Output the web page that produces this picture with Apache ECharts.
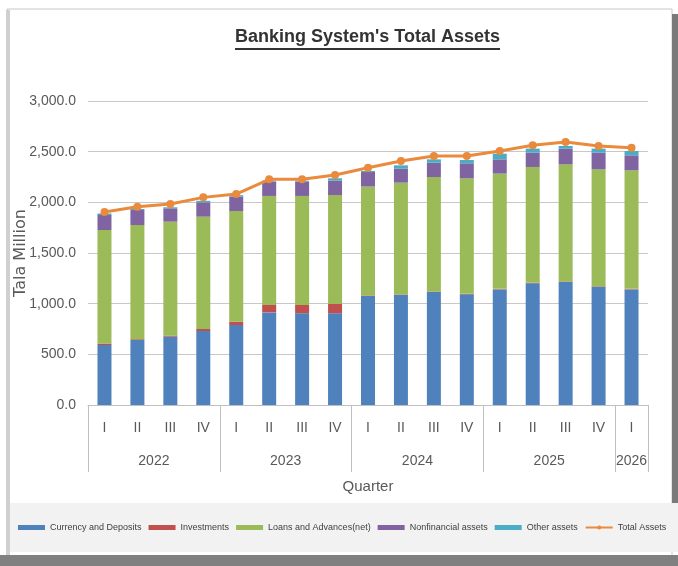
<!DOCTYPE html>
<html><head><meta charset="utf-8">
<script src="https://cdn.jsdelivr.net/npm/echarts@6/dist/echarts.min.js"></script>
<style>html,body{margin:0;padding:0;background:#fff}#c{width:678px;height:566px}</style>
</head><body><div id="c"></div>
<script>
// ---- data ----
const quarters = ['I','II','III','IV','I','II','III','IV','I','II','III','IV','I','II','III','IV','I'];
const years = ['2022','2023','2024','2025','2026'];
const quartersPerYear = [4,4,4,4,1];
const seriesNames = ['Currency and Deposits','Investments','Loans and Advances(net)','Nonfinancial assets','Other assets','Total Assets'];
const currencyDeposits = [592, 641, 674, 730, 789, 914, 905, 905, 1076, 1086, 1115, 1092, 1141, 1201, 1214, 1168, 1141];
const investments      = [15, 8, 10, 20, 33, 73, 82, 92, 5, 5, 5, 5, 5, 5, 5, 5, 5];
const loansAdvances    = [1120, 1127, 1125, 1109, 1092, 1076, 1076, 1075, 1074, 1103, 1130, 1140, 1137, 1143, 1156, 1153, 1170];
const nonfinancial     = [148, 148, 132, 141, 142, 141, 141, 142, 144, 138, 141, 148, 141, 141, 155, 164, 148];
const otherAssets      = [15, 10, 10, 15, 15, 10, 10, 23, 10, 33, 33, 33, 56, 40, 26, 40, 43];
const totalAssets      = [1905, 1957, 1984, 2049, 2082, 2227, 2227, 2270, 2342, 2408, 2457, 2457, 2507, 2563, 2595, 2556, 2539];
const yTicks = [0, 500, 1000, 1500, 2000, 2500, 3000];

// ---- styles ----
const colors = ['#4F81BD','#C0504D','#9BBB59','#8064A2','#4BACC6','#E98A3C'];
const W = 678, H = 566;
const gridL = 88, gridR = 30, gridT = 101, gridB = 161;
const titleText = "Banking System's Total Assets";
const titleFont = 'bold 18px "Liberation Sans"';
const cv = document.createElement('canvas').getContext('2d');
cv.font = titleFont;
const titleW = cv.measureText(titleText).width;
const plotCx = gridL + (W - gridL - gridR) / 2;

// year boundaries / centres derived from the counts
const bounds = [0];
quartersPerYear.forEach(n => bounds.push(bounds[bounds.length - 1] + n));
const yearCentres = quartersPerYear.map((n, i) => bounds[i] + n / 2);

const chart = echarts.init(document.getElementById('c'), null, {renderer: 'canvas'});
const labelColor = '#595959';
const stackData = [currencyDeposits, investments, loansAdvances, nonfinancial, otherAssets];
const titleX = Math.round(plotCx - titleW / 2);

chart.setOption({
  backgroundColor: '#ffffff',
  animation: false,
  title: {
    text: titleText, left: titleX, top: 28, padding: 0,
    textStyle: {fontFamily: 'Liberation Sans', fontSize: 18, fontWeight: 'bold', color: '#333333'}
  },
  graphic: [
    {type: 'rect', z: -20, shape: {x: 7, y: 9, width: 665, height: 547}, style: {fill: '#ffffff', stroke: '#c8c8c8', lineWidth: 1}},
    {type: 'rect', z: -19, shape: {x: 6, y: 10, width: 4, height: 545}, style: {fill: '#d0d0d0'}},
    {type: 'rect', z: -19, shape: {x: 672, y: 14, width: 6, height: 489}, style: {fill: '#7a7a7a'}},
    {type: 'rect', z: -19, shape: {x: 10, y: 503, width: 668, height: 49}, style: {fill: '#f2f2f2'}},
    {type: 'rect', z: -19, shape: {x: 0, y: 555, width: 678, height: 11}, style: {fill: '#808080'}},
    {type: 'line', z: 5, shape: {x1: titleX, y1: 49, x2: titleX + titleW, y2: 49}, style: {stroke: '#333333', lineWidth: 2}}
  ],
  legend: {
    left: 18, top: 523, width: 658, itemWidth: 27, itemHeight: 5, itemGap: 7, padding: 0,
    textStyle: {fontFamily: 'Liberation Sans', fontSize: 9, color: '#404040'},
    data: seriesNames.slice(0, 5).map(n => ({name: n, icon: 'rect'})).concat([{name: seriesNames[5]}])
  },
  grid: {left: gridL, right: gridR, top: gridT, bottom: gridB, containLabel: false},
  xAxis: [
    {
      type: 'category', data: quarters, boundaryGap: true,
      axisLine: {show: true, lineStyle: {color: '#bfbfbf', width: 1}},
      axisTick: {show: false},
      axisLabel: {interval: 0, margin: 16, fontFamily: 'Liberation Sans', fontSize: 14, color: labelColor},
      name: 'Quarter', nameLocation: 'middle', nameGap: 74,
      nameTextStyle: {fontFamily: 'Liberation Sans', fontSize: 15, color: labelColor}
    },
    {
      type: 'value', position: 'bottom', min: 0, max: bounds[bounds.length - 1],
      axisLine: {show: false}, splitLine: {show: false},
      axisTick: {show: true, inside: false, length: 67, customValues: bounds, lineStyle: {color: '#bfbfbf', width: 1}},
      axisLabel: {
        show: true, margin: 49, customValues: yearCentres,
        fontFamily: 'Liberation Sans', fontSize: 14, color: labelColor,
        formatter: v => { const i = yearCentres.findIndex(c => Math.abs(c - v) < 1e-6); return i >= 0 ? years[i] : ''; }
      }
    }
  ],
  yAxis: {
    type: 'value', min: yTicks[0], max: yTicks[yTicks.length - 1], interval: yTicks[1] - yTicks[0],
    axisLine: {show: false}, axisTick: {show: false},
    splitLine: {lineStyle: {color: '#c8c8c8', width: 1}},
    axisLabel: {
      margin: 12, fontFamily: 'Liberation Sans', fontSize: 14, color: labelColor,
      formatter: v => v.toLocaleString('en-US', {minimumFractionDigits: 1, maximumFractionDigits: 1})
    },
    name: 'Tala Million', nameLocation: 'middle', nameGap: 59, nameRotate: 90, nameMoveOverlap: false,
    nameTextStyle: {fontFamily: 'DejaVu Sans', fontSize: 16, color: labelColor}
  },
  series: stackData.map((d, i) => ({
    name: seriesNames[i], type: 'bar', stack: 'assets', data: d, barWidth: 14,
    itemStyle: {color: colors[i]}, xAxisIndex: 0
  })).concat([{
    name: seriesNames[5], type: 'line', data: totalAssets, xAxisIndex: 0,
    symbol: 'circle', symbolSize: 8, z: 5,
    lineStyle: {color: colors[5], width: 3}, itemStyle: {color: colors[5]}
  }])
});
</script></body></html>
